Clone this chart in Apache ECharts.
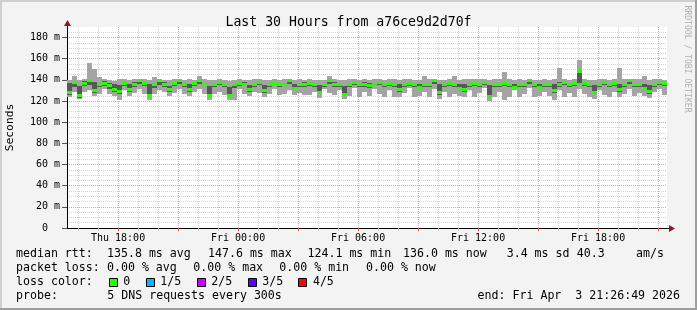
<!DOCTYPE html>
<html><head><meta charset="utf-8">
<script src="https://cdn.jsdelivr.net/npm/echarts@6/dist/echarts.min.js"></script>
<style>html,body{margin:0;padding:0;background:#f3f3f3}#c{width:697px;height:310px}</style>
</head><body><div id="c"></div>
<script>
// ---- time frame (hours since Thu 00:00) ----
const START_HOUR = 15 + 26 / 60 + 49 / 3600;   // Thu 15:26:49
const END_HOUR = START_HOUR + 30;              // Fri 21:26:49
const STEP_HOURS = 0.25;

// ---- smoke data (ms): ping1 (min), ping2, median, ping4, ping5 (max) ----
const ping1 = [124,129,122,129,130,125,127,131,127,125,121,130,125,128,131,127,121,127,130,129,125,128,131,127,
  125,129,131,127,121,127,129,126,121,121,131,127,125,129,128,124,127,131,126,127,130,126,128,126,
  126,129,123,131,128,126,130,122,125,132,124,129,125,131,127,124,130,124,124,128,132,124,125,129,
  124,131,122,129,124,127,125,124,130,124,128,132,120,124,129,121,124,130,124,127,132,124,125,129,
  125,121,130,124,128,124,131,127,124,122,130,126,124,129,124,127,131,125,128,125,123,129,131,126];
const ping2 = [126,133,123,134,135,128,133,134,131,129,127,134,129,133,136,134,124,132,135,133,129,134,136,133,
  129,134,136,134,124,133,135,133,124,132,134,134,129,133,135,128,133,135,133,134,136,130,133,133,
  134,133,127,133,136,133,133,125,133,135,133,133,132,134,135,133,134,133,129,133,134,133,131,133,
  133,136,126,133,134,133,130,129,133,134,133,135,123,133,133,134,133,131,133,133,136,133,131,133,
  133,128,133,135,133,134,137,134,133,127,133,135,133,134,129,133,136,133,133,130,127,133,135,134];
const median = [128,138,125,137,139,130,136,137,135,131,129,137,131,136,139,137,125,136,139,136,131,137,139,136,
  131,137,139,136,125,136,138,136,125,136,137,136,131,136,138,130,136,137,136,136,139,132,136,136,
  137,136,128,136,139,136,136,126,136,138,136,136,135,136,138,136,137,136,131,136,137,136,133,136,
  136,139,128,136,137,136,132,131,136,137,136,138,124,136,136,137,136,133,136,136,139,136,133,136,
  136,130,136,138,136,137,148,137,136,128,136,138,136,137,131,136,139,136,136,132,129,136,138,137];
const ping4 = [137,139,134,139,140,138,137,139,137,136,135,138,136,138,140,138,136,137,140,138,134,138,140,137,
  136,138,140,137,134,137,139,137,133,137,138,138,135,137,139,135,137,138,137,137,140,136,137,138,
  138,137,135,137,140,138,137,134,137,139,137,138,137,137,139,137,138,137,136,137,138,137,136,137,
  137,140,136,137,138,137,136,136,137,138,137,139,135,137,137,138,137,136,137,137,140,137,136,137,
  137,136,138,139,137,138,149,138,137,135,137,139,137,138,136,137,140,137,137,136,135,137,139,138];
const ping5 = [140,144,140,141,156,150,143,141,140,139,141,141,140,141,141,141,140,143,141,140,140,141,141,140,
  141,140,144,141,140,140,141,140,139,140,141,140,140,141,141,140,140,141,140,141,141,140,141,140,
  141,140,140,140,144,141,140,140,141,141,140,141,140,141,141,140,141,141,140,141,141,140,140,144,
  141,141,140,140,141,144,140,141,141,141,141,141,140,141,141,147,141,140,141,140,141,140,140,141,
  140,141,151,141,140,141,159,141,140,140,141,141,140,141,151,141,141,141,141,144,140,141,141,140];

// ---- axes ----
const xLabelHours = [18, 24, 30, 36, 42];
const xLabelTexts = ['Thu 18:00', 'Fri 00:00', 'Fri 06:00', 'Fri 12:00', 'Fri 18:00'];
const xMajorHours = [18, 21, 24, 27, 30, 33, 36, 39, 42, 45];
const xMinorHours = [16,17,19,20,22,23,25,26,28,29,31,32,34,35,37,38,40,41,43,44];
const yMajor = [0, 20, 40, 60, 80, 100, 120, 140, 160, 180];
const yMinor = [5,10,15,25,30,35,45,50,55,65,70,75,85,90,95,105,110,115,125,130,135,145,150,155,165,170,175,185];
const Y_MAX = 190;

// ---- texts ----
const titleText = 'Last 30 Hours from a76ce9d2d70f';
const yAxisName = 'Seconds';
const sideText = 'RRDTOOL / TOBI OETIKER';
const line1 = [['median rtt:', 16], ['135.8 ms avg', 107], ['147.6 ms max', 208], ['124.1 ms min', 307.5], ['136.0 ms now', 403], ['3.4 ms sd', 506.7], ['40.3', 576.7], ['am/s', 636]];
const line2 = [['packet loss:', 16], ['0.00 % avg', 107], ['0.00 % max', 193.3], ['0.00 % min', 279.3], ['0.00 % now', 366]];
const lossLabel = ['loss color:', 16];
const lossItems = [['0', '#26ff00', 108.7], ['1/5', '#00b8ff', 145.7], ['2/5', '#cc00ff', 196.7], ['3/5', '#5e00ff', 247.7], ['4/5', '#ff0000', 298.3]];
const line4 = [['probe:', 16], ['5 DNS requests every 300s', 107.3]];
const endText = 'end: Fri Apr  3 21:26:49 2026';

const LIGHT = '#a4a4a4', DARK = '#585858', MED = '#26ff00';
const MONO = '"DejaVu Sans Mono", monospace';

const rows = median.map((m, i) => [START_HOUR + i * STEP_HOURS, ping1[i], ping2[i], m, ping4[i], ping5[i]]);

const chart = echarts.init(document.getElementById('c'), null, {renderer: 'canvas'});

function txt(text, x, y, size, extra) {
  return Object.assign({type: 'text', x: x, y: y, silent: true,
    style: Object.assign({text: text, fontSize: size || 11.6, fontFamily: MONO, fill: '#000', verticalAlign: 'middle', align: 'left'}, extra || {})});
}

const graphics = [
  {type: 'rect', shape: {x: 0, y: 0, width: 697, height: 2}, style: {fill: '#cfcfcf'}, silent: true},
  {type: 'rect', shape: {x: 0, y: 0, width: 2, height: 310}, style: {fill: '#cfcfcf'}, silent: true},
  {type: 'rect', shape: {x: 0, y: 308, width: 697, height: 2}, style: {fill: '#9e9e9e'}, silent: true},
  {type: 'rect', shape: {x: 695, y: 0, width: 2, height: 310}, style: {fill: '#9e9e9e'}, silent: true},
  {type: 'line', shape: {x1: 67.5, y1: 27, x2: 67.5, y2: 24}, style: {stroke: '#000', lineWidth: 1}, silent: true},
  {type: 'polygon', shape: {points: [[67.5, 20], [64, 26], [71, 26]]}, style: {fill: '#8b1a1a'}, silent: true},
  {type: 'line', shape: {x1: 667, y1: 228.5, x2: 670, y2: 228.5}, style: {stroke: '#000', lineWidth: 1}, silent: true},
  {type: 'polygon', shape: {points: [[675, 228.5], [669, 225], [669, 232]]}, style: {fill: '#8b1a1a'}, silent: true},
  txt(yAxisName, 10.5, 127.5, 11.3, {align: 'center'}),
  txt(sideText, 687, 59, 8.1, {align: 'center', fill: '#b0b0b0'})
];
graphics[8].rotation = Math.PI / 2;
graphics[9].rotation = -Math.PI / 2;
line1.forEach(([t, x]) => graphics.push(txt(t, x, 254.3)));
line2.forEach(([t, x]) => graphics.push(txt(t, x, 268.3)));
graphics.push(txt(lossLabel[0], lossLabel[1], 282.3));
lossItems.forEach(([t, c, x]) => {
  graphics.push({type: 'rect', shape: {x: Math.round(x) + 0.5, y: 278.5, width: 8, height: 8}, style: {fill: c, stroke: '#000', lineWidth: 1}, silent: true});
  graphics.push(txt(t, x + 14.6, 282.3));
});
line4.forEach(([t, x]) => graphics.push(txt(t, x, 296.3)));
graphics.push(txt(endText, 680, 296.3, 11.6, {align: 'right'}));

const minorLine = {color: 'rgba(143,143,143,0.4)', width: 1, type: [1, 1]};
const majorLine = {color: 'rgba(222,80,80,0.55)', width: 1, type: [1, 1]};

chart.setOption({
  animation: false,
  backgroundColor: '#f3f3f3',
  title: {text: titleText, left: 'center', top: 11, textStyle: {fontFamily: MONO, fontSize: 13.2, fontWeight: 'normal', color: '#000'}},
  grid: {left: 67, right: 30, top: 27, bottom: 82, show: true, backgroundColor: '#fff', borderWidth: 0, containLabel: false},
  xAxis: [
    {type: 'value', position: 'bottom', min: START_HOUR, max: END_HOUR,
      axisLine: {show: true, onZero: false, lineStyle: {color: '#000', width: 1}},
      axisTick: {show: true, customValues: xMinorHours, length: 2, lineStyle: {color: '#b0b0b0'}},
      axisLabel: {show: false},
      splitLine: {show: true, lineStyle: minorLine}},
    {type: 'value', position: 'bottom', min: START_HOUR, max: END_HOUR,
      axisLine: {show: false, onZero: false},
      axisTick: {show: true, customValues: xMajorHours, length: 3, lineStyle: {color: '#de5050'}},
      axisLabel: {show: true, customValues: xLabelHours, margin: 5, fontFamily: MONO, fontSize: 10, color: '#000',
        formatter: v => xLabelTexts[xLabelHours.indexOf(Math.round(v))]},
      splitLine: {show: true, lineStyle: majorLine}}
  ],
  yAxis: [
    {type: 'value', min: 0, max: Y_MAX,
      axisLine: {show: true, onZero: false, lineStyle: {color: '#000', width: 1}},
      axisTick: {show: false, customValues: yMinor},
      axisLabel: {show: false},
      splitLine: {show: true, lineStyle: minorLine}},
    {type: 'value', position: 'left', min: 0, max: Y_MAX,
      axisLine: {show: false},
      axisTick: {show: true, customValues: yMajor, length: 5, lineStyle: {color: '#555'}},
      axisLabel: {show: true, customValues: yMajor, margin: 7, fontFamily: MONO, fontSize: 10, color: '#000',
        formatter: v => v === 0 ? '0  ' : v + ' m'},
      splitLine: {show: true, lineStyle: majorLine}}
  ],
  series: [{
    type: 'custom', xAxisIndex: 0, yAxisIndex: 0, clip: true, silent: true,
    encode: {x: 0, y: [1, 2, 3, 4, 5]},
    data: rows,
    renderItem: function (params, api) {
      const t = api.value(0);
      const x0 = Math.round(api.coord([t, 0])[0]);
      const x1 = Math.round(api.coord([t + STEP_HOURS, 0])[0]);
      const w = x1 - x0;
      const yv = k => Math.round(api.coord([t, api.value(k)])[1]);
      const y1 = yv(1), y2 = yv(2), ym = api.coord([t, api.value(3)])[1], y4 = yv(4), y5 = yv(5);
      return {type: 'group', children: [
        {type: 'rect', shape: {x: x0, y: y5, width: w, height: Math.max(1, y1 - y5)}, style: {fill: LIGHT}},
        {type: 'rect', shape: {x: x0, y: y4, width: w, height: Math.max(1, y2 - y4)}, style: {fill: DARK}},
        {type: 'rect', shape: {x: x0, y: Math.round(ym - 1.5), width: w, height: 3}, style: {fill: MED}}
      ]};
    }
  }],
  graphic: graphics
});
</script></body></html>
